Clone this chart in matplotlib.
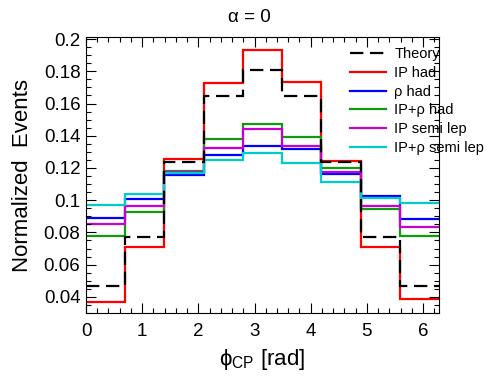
import numpy as np
import matplotlib
matplotlib.use("Agg")
import matplotlib.pyplot as plt
from matplotlib.ticker import MultipleLocator, FormatStrFormatter

plt.rcParams['font.family'] = ['Liberation Sans', 'DejaVu Sans']
plt.rcParams['mathtext.fontset'] = 'custom'
plt.rcParams['mathtext.rm'] = 'Liberation Sans'
plt.rcParams['mathtext.it'] = 'Liberation Sans:italic'
plt.rcParams['mathtext.fallback'] = 'stixsans'

# 9 bins from 0 to 2pi
edges = np.linspace(0, 2 * np.pi, 10)

theory    = [0.047, 0.0773, 0.1235, 0.1646, 0.1806, 0.1646, 0.1236, 0.0773, 0.047]
ip_had    = [0.0371, 0.0708, 0.1255, 0.1725, 0.1933, 0.1733, 0.1244, 0.0708, 0.0386]
rho_had   = [0.0892, 0.101, 0.1158, 0.1283, 0.1337, 0.1317, 0.116, 0.1025, 0.0881]
iprho_had = [0.0775, 0.0927, 0.1182, 0.1383, 0.1475, 0.139, 0.1198, 0.0948, 0.0781]
ip_semi   = [0.085, 0.0964, 0.1175, 0.1327, 0.1442, 0.1337, 0.1177, 0.0964, 0.0833]
iprho_semi = [0.0969, 0.1039, 0.117, 0.1252, 0.1292, 0.123, 0.1115, 0.1015, 0.098]

fig = plt.figure(figsize=(4.88, 3.8), dpi=100)
ax = fig.add_axes([86/488, 1-313/380, (439-86)/488, (313-37)/380])

lw = 1.6
ax.stairs(ip_had, edges, color='#ff0000', lw=lw, label='IP had', baseline=None)
ax.stairs(rho_had, edges, color='#0000ff', lw=lw, label=u'\u03c1 had', baseline=None)
ax.stairs(iprho_had, edges, color='#109a10', lw=lw, label=u'IP+\u03c1 had', baseline=None)
ax.stairs(ip_semi, edges, color='#c800d2', lw=lw, label='IP semi lep', baseline=None)
ax.stairs(iprho_semi, edges, color='#00cccc', lw=lw, label=u'IP+\u03c1 semi lep', baseline=None)
ax.stairs(theory, edges, color='black', lw=lw, ls=(0, (6, 3)), label='Theory', baseline=None)

ax.set_xlim(0, 2 * np.pi)
ax.set_ylim(0.03, 0.2013)

ax.xaxis.set_major_locator(MultipleLocator(1))
ax.xaxis.set_minor_locator(MultipleLocator(0.2))
ax.yaxis.set_major_locator(MultipleLocator(0.02))
ax.yaxis.set_minor_locator(MultipleLocator(0.005))
ax.yaxis.set_major_formatter(FormatStrFormatter('%g'))
ax.tick_params(which='both', direction='in', top=True, right=True, width=0.8)
ax.tick_params(which='major', length=7, labelsize=13.5)
ax.tick_params(axis='x', which='major', pad=7)
ax.tick_params(axis='y', which='major', pad=4)
ax.tick_params(which='minor', length=3.5)
for s in ax.spines.values():
    s.set_linewidth(0.8)

ax.set_xlabel(r'$\mathrm{\phi}_{\mathrm{CP}}$ [rad]', fontsize=16, labelpad=5)
ax.set_ylabel('Normalized  Events', fontsize=16, labelpad=8)
fig.text(249/488, 1-18/380, u'\u03b1 = 0', fontsize=13.5, ha='center', va='center')

handles, labels = ax.get_legend_handles_labels()
order = [5, 0, 1, 2, 3, 4]
ax.legend([handles[i] for i in order], [labels[i] for i in order],
          loc='upper left', bbox_to_anchor=(350/488, 1-47/380), bbox_transform=fig.transFigure,
          frameon=False, fontsize=10.5, handlelength=2.5, handletextpad=0.55,
          labelspacing=0.33, borderpad=0, borderaxespad=0)

fig.savefig('out.png', dpi=100)
